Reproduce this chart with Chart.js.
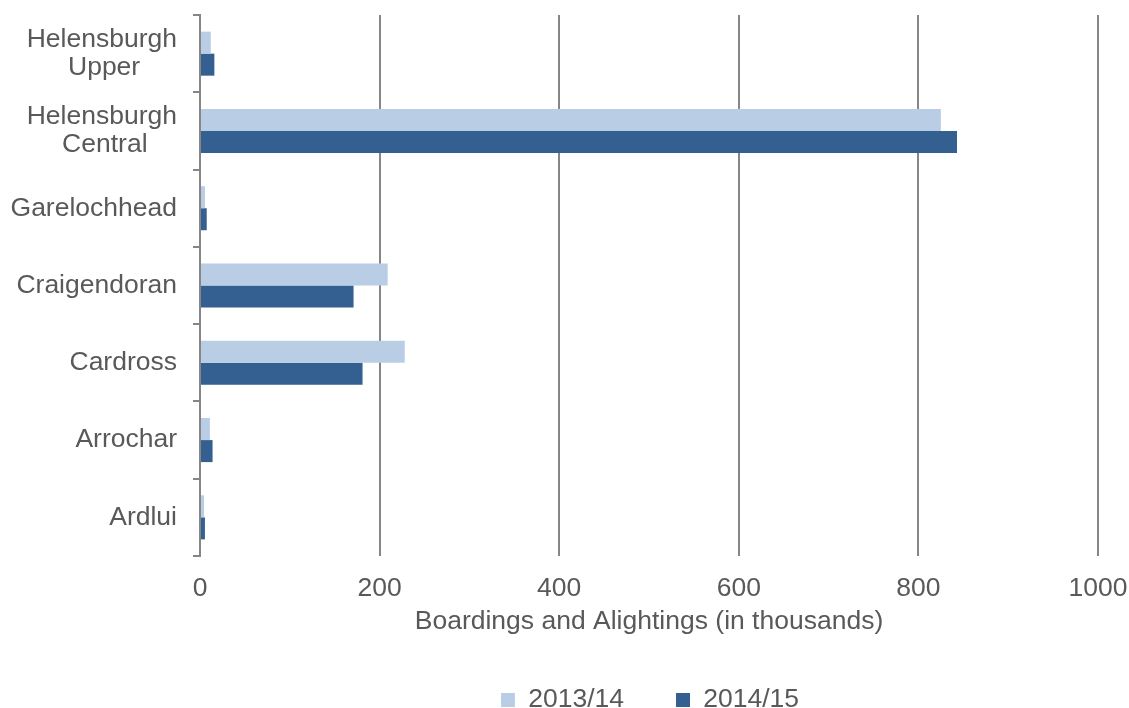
<!DOCTYPE html>
<html>
<head>
<meta charset="utf-8">
<script src="https://cdn.jsdelivr.net/npm/chart.js@4.4.1/dist/chart.umd.min.js"></script>
<style>
  html, body { margin: 0; padding: 0; background: #ffffff; }
  #wrap { width: 1129px; height: 708px; }
</style>
</head>
<body>
<div id="wrap"><canvas id="chart" width="1129" height="708"></canvas></div>
<script>
// Stations on the West Highland / Helensburgh lines
const stations = [
  ['Helensburgh', 'Upper'],
  ['Helensburgh', 'Central'],
  'Garelochhead',
  'Craigendoran',
  'Cardross',
  'Arrochar',
  'Ardlui'
];
// Boardings and alightings, thousands
const usage2013 = [12, 825, 5.5, 209, 228, 11, 4.5];
const usage2014 = [16, 843, 7.5, 171, 181, 14, 5.5];
const seriesNames = ['2013/14', '2014/15'];
const xTickValues = [0, 200, 400, 600, 800, 1000];
const xTitle = 'Boardings and Alightings (in thousands)';

const FONT = "'Liberation Sans', Arial, sans-serif";
const FONT_SIZE = 26.5;
const TEXT = '#595959';
const GRID = '#868686';
const LIGHT = '#B9CDE5';
const DARK = '#335F91';

// Two-line labels are right-aligned by the axis; pad the shorter line with
// trailing spaces so that each line sits centred inside the label block.
const measureCtx = document.createElement('canvas').getContext('2d');
measureCtx.font = FONT_SIZE + 'px ' + FONT;
const spaceW = measureCtx.measureText(' ').width;
function centreLines(label) {
  if (!Array.isArray(label)) return label;
  const widths = label.map(l => measureCtx.measureText(l).width);
  const maxW = Math.max(...widths);
  return label.map((l, i) => l + ' '.repeat(Math.round((maxW - widths[i]) / 2 / spaceW)));
}
const axisLabels = stations.map(centreLines);

// Centre the legend under the plot area and set its row position.
const legendPlacement = {
  id: 'legendPlacement',
  afterLayout(chart) {
    const lg = chart.legend;
    const area = chart.chartArea;
    const pad = lg.options.labels.padding;
    const mid = (area.left + area.right) / 2 + 1;
    const half = (lg.right - lg.left) / 2;
    lg.left = mid - half;
    lg.right = mid + half;
    const textCentre = 700;
    lg.top = textCentre - pad - FONT_SIZE / 2;
    lg.bottom = chart.height;
  }
};

new Chart(document.getElementById('chart'), {
  type: 'bar',
  data: {
    labels: axisLabels,
    datasets: [
      { label: seriesNames[0], data: usage2013, backgroundColor: LIGHT, borderWidth: 0 },
      { label: seriesNames[1], data: usage2014, backgroundColor: DARK, borderWidth: 0 }
    ]
  },
  options: {
    indexAxis: 'y',
    responsive: false,
    animation: false,
    devicePixelRatio: 1,
    datasets: { bar: { categoryPercentage: 0.57, barPercentage: 1.0 } },
    layout: { padding: { top: 15, left: 10, right: 31, bottom: 0 } },
    scales: {
      x: {
        type: 'linear',
        min: 0,
        max: 1000,
        afterBuildTicks: scale => { scale.ticks = xTickValues.map(v => ({ value: v })); },
        afterFit: scale => {
          scale.paddingLeft = 0;
          scale.paddingRight = 0;
        },
        ticks: {
          color: TEXT,
          font: { family: FONT, size: FONT_SIZE },
          padding: 17,
          maxRotation: 0,
          callback: v => String(v)
        },
        grid: { color: GRID, lineWidth: 2, drawTicks: false },
        border: { display: false },
        title: {
          display: true,
          text: xTitle,
          color: TEXT,
          font: { family: FONT, size: FONT_SIZE },
          padding: { top: -16, bottom: 4 }
        }
      },
      y: {
        type: 'category',
        afterFit: scale => {
          scale.width = 190;
          scale.paddingTop = 0;
          scale.paddingBottom = 0;
        },
        grid: { display: true, drawOnChartArea: false, drawTicks: true, tickLength: 7, color: GRID, lineWidth: 2, offset: true },
        border: { display: true, color: GRID, width: 2 },
        ticks: { color: TEXT, font: { family: FONT, size: FONT_SIZE, lineHeight: 1.06 }, padding: 16, crossAlign: 'near', autoSkip: false }
      }
    },
    plugins: {
      legend: {
        position: 'bottom',
        maxHeight: 66.4,
        labels: {
          boxWidth: 14,
          boxHeight: 14,
          padding: 52,
          color: TEXT,
          font: { family: FONT, size: FONT_SIZE }
        }
      },
      tooltip: { enabled: false }
    }
  },
  plugins: [legendPlacement]
});
</script>
</body>
</html>
